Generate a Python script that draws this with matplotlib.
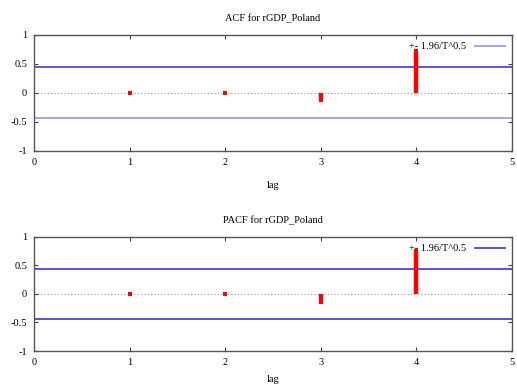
import matplotlib
matplotlib.use("Agg")
import matplotlib.pyplot as plt

lags = [1, 2, 3, 4]
acf_values = [0.005, 0.005, -0.12, 0.72]
pacf_values = [0.005, 0.005, -0.14, 0.76]
band = 1.96 / 20 ** 0.5
series_name = "rGDP_Poland"

plt.rcParams["font.family"] = ["Liberation Serif", "DejaVu Serif"]

fig = plt.figure(figsize=(5.17, 3.87), dpi=100)
ax1 = fig.add_axes([0.066, 0.610, 0.924, 0.300])
ax2 = fig.add_axes([0.066, 0.093, 0.924, 0.295])


def draw(ax, values, title, upper_color, lower_color, xpad):
    ax.axhline(0, color="#999999", lw=0.8, ls=(0, (1, 2)), zorder=1)
    ax.axhline(band, color=upper_color, lw=1.3, zorder=2)
    ax.axhline(-band, color=lower_color, lw=1.3, zorder=2,
               label="+- 1.96/T^0.5")
    # impulses with square ends like gnuplot
    ax.vlines(lags, 0, values, color="red", lw=3.2, zorder=3)
    ax.plot(lags, values, "s", color="red", ms=3.2, mew=0, zorder=3)
    ax.set_xlim(0, 5)
    ax.set_ylim(-1, 1)
    ax.set_xticks(range(6))
    ax.set_yticks([-1, -0.5, 0, 0.5, 1])
    ax.set_yticklabels(["-1", "-0.5", "0", "0.5", "1"])
    ax.tick_params(direction="in", top=True, right=True, labelsize=7.5,
                   length=3, color="#444444", pad=5)
    for s in ax.spines.values():
        s.set_color("#555555")
        s.set_linewidth(1.0)
    ax.set_title(title, fontsize=7.5, pad=10)
    ax.set_xlabel("lag", fontsize=7.5, labelpad=xpad)
    ax.legend(loc="upper right", frameon=False, fontsize=7.5,
              handlelength=2.8, handletextpad=0.9, markerfirst=False,
              borderaxespad=0.3, borderpad=0.4)


draw(ax1, acf_values, "ACF for " + series_name, "#4a4aee", "#9d9df7", 10)
draw(ax2, pacf_values, "PACF for " + series_name, "#4343f0", "#4343f0", 6)

fig.savefig("out.png", dpi=100)
